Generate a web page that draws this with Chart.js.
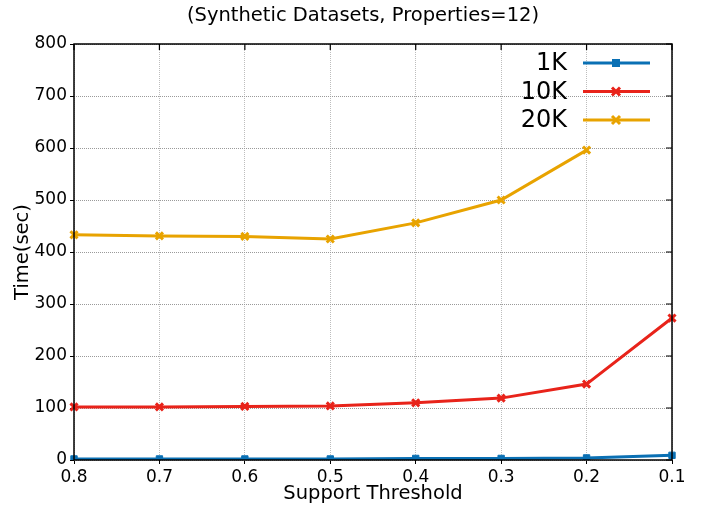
<!DOCTYPE html>
<html>
<head>
<meta charset="utf-8">
<script src="https://cdn.jsdelivr.net/npm/chart.js@4.4.0/dist/chart.umd.min.js"></script>
<style>
  html, body { margin: 0; padding: 0; background: #fff; }
  #wrap { width: 703px; height: 509px; }
</style>
</head>
<body>
<div id="wrap"><canvas id="timeChart" width="703" height="509"></canvas></div>
<script>
// values
const thresholds = ['0.8', '0.7', '0.6', '0.5', '0.4', '0.3', '0.2', '0.1'];
const yTicks = [0, 100, 200, 300, 400, 500, 600, 700, 800];
const time1K = [2, 2, 2, 2, 3, 3, 4, 9];
const time10K = [102, 102, 103, 104, 110, 119, 146, 273];
const time20K = [433, 431, 430, 425, 456, 500, 596, null];
const chartTitle = '(Synthetic Datasets, Properties=12)';

const FONT = 'DejaVu Sans';

// black frame + mirrored inward ticks on top/right, plus title
const framePlugin = {
    id: 'frame',
    afterDraw(chart) {
        const { ctx, chartArea: a, scales } = chart;
        ctx.save();
        ctx.strokeStyle = '#000';
        ctx.lineWidth = 1.5;
        ctx.strokeRect(a.left, a.top, a.right - a.left, a.bottom - a.top);
        ctx.lineWidth = 1.2;
        ctx.beginPath();
        yTicks.forEach(v => {
            const y = scales.y.getPixelForValue(v);
            ctx.moveTo(a.right, y); ctx.lineTo(a.right - 6, y);
        });
        thresholds.forEach((t, i) => {
            const x = scales.x.getPixelForValue(i);
            ctx.moveTo(x, a.top); ctx.lineTo(x, a.top + 6);
        });
        ctx.stroke();
        // title, centred a bit right of the canvas centre like the reference
        ctx.fillStyle = '#000';
        ctx.font = '19.5px ' + FONT;
        ctx.textAlign = 'center';
        ctx.textBaseline = 'middle';
        ctx.fillText(chartTitle, 363, 16);
        ctx.restore();
    }
};

// gnuplot-like legend inside the plot, top right
const legendPlugin = {
    id: 'keyBox',
    afterDatasetsDraw(chart) {
        const { ctx } = chart;
        ctx.save();
        ctx.font = '24px ' + FONT;
        ctx.textAlign = 'right';
        ctx.textBaseline = 'middle';
        chart.data.datasets.forEach((ds, i) => {
            const y = 63 + i * 28.5;
            ctx.fillStyle = '#000';
            ctx.fillText(ds.label, 567, y + 1);
            ctx.strokeStyle = ds.borderColor;
            ctx.lineWidth = 3;
            ctx.beginPath();
            ctx.moveTo(583, y); ctx.lineTo(650, y);
            ctx.stroke();
            const mx = 616;
            if (ds.pointStyle === 'rect') {
                ctx.fillStyle = ds.borderColor;
                ctx.fillRect(mx - 4, y - 4, 8, 8);
            } else {
                ctx.lineWidth = 3;
                ctx.beginPath();
                ctx.moveTo(mx - 4, y - 4); ctx.lineTo(mx + 4, y + 4);
                ctx.moveTo(mx + 4, y - 4); ctx.lineTo(mx - 4, y + 4);
                ctx.stroke();
            }
        });
        ctx.restore();
    }
};

function series(label, data, color, style) {
    return {
        label,
        data,
        borderColor: color,
        backgroundColor: color,
        borderWidth: 3,
        pointStyle: style,
        pointRadius: style === 'rect' ? 4.5 : 5,
        pointBorderWidth: style === 'rect' ? 1 : 3,
        pointBackgroundColor: color,
        pointBorderColor: color,
        tension: 0,
        spanGaps: false
    };
}

new Chart(document.getElementById('timeChart'), {
    type: 'line',
    data: {
        labels: thresholds,
        datasets: [
            series('1K', time1K, '#0a70b4', 'rect'),
            series('10K', time10K, '#e8231a', 'crossRot'),
            series('20K', time20K, '#e8a300', 'crossRot')
        ]
    },
    plugins: [framePlugin, legendPlugin],
    options: {
        responsive: false,
        animation: false,
        layout: { padding: { left: 0, right: 31, top: 44, bottom: 0 } },
        plugins: {
            legend: { display: false },
            tooltip: { enabled: false },
            title: { display: false }
        },
        scales: {
            x: {
                type: 'category',
                offset: false,
                afterFit(s) { s.height = 49; },
                grid: { color: '#bdbdbd', lineWidth: 1, tickLength: 4, drawTicks: true, tickColor: '#000' },
                border: { display: false, dash: [1, 1] },
                ticks: { color: '#000', font: { family: FONT, size: 17 }, padding: 3, maxRotation: 0 },
                title: {
                    display: true,
                    text: 'Support Threshold',
                    color: '#000',
                    font: { family: FONT, size: 19.5 },
                    padding: { top: 0, bottom: 3 }
                }
            },
            y: {
                min: 0,
                max: 800,
                afterFit(s) { s.width = 74; },
                afterBuildTicks(s) { s.ticks = yTicks.map(v => ({ value: v })); },
                grid: { color: '#9a9a9a', lineWidth: 1, tickLength: 4, tickColor: '#000' },
                border: { display: false, dash: [1, 1] },
                ticks: { color: '#000', font: { family: FONT, size: 17 }, padding: 3 },
                title: {
                    display: true,
                    text: 'Time(sec)',
                    color: '#000',
                    font: { family: FONT, size: 19.5 },
                    padding: { top: 11, bottom: 0 }
                }
            }
        }
    }
});
</script>
</body>
</html>
